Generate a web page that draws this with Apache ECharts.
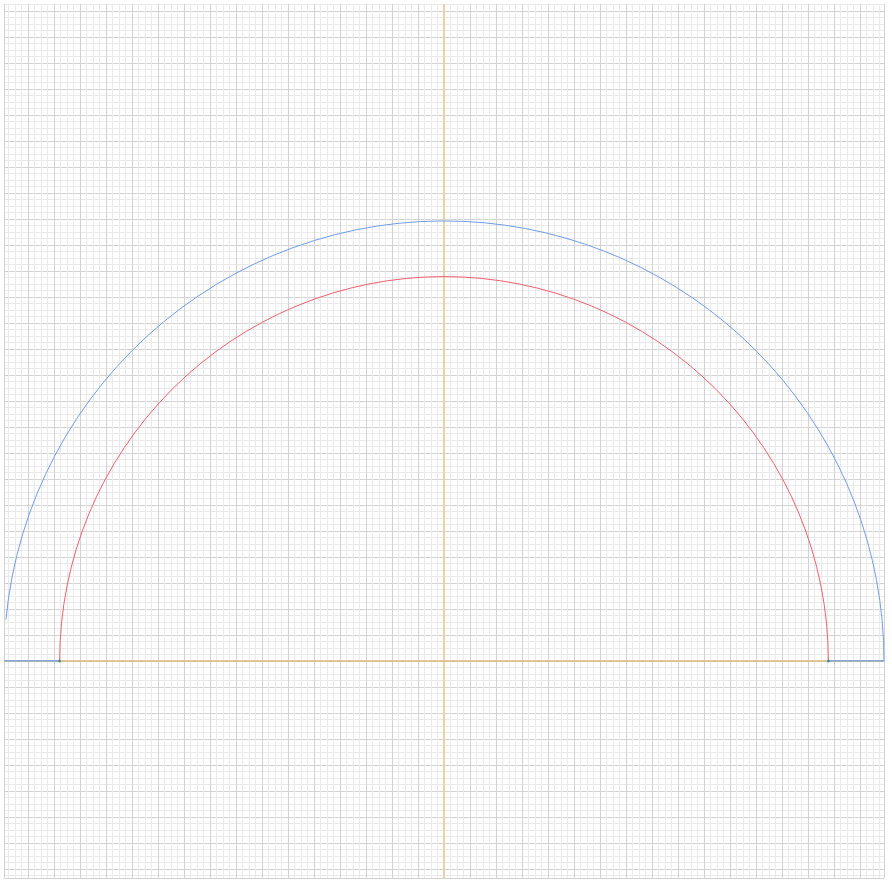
<!DOCTYPE html>
<html>
<head>
<meta charset="utf-8">
<script src="https://cdn.jsdelivr.net/npm/echarts@6/dist/echarts.min.js"></script>
<style>
html,body{margin:0;padding:0;background:#fff;}
#c{width:892px;height:880px;}
</style>
</head>
<body>
<div id="c"></div>
<script>
// ---- data (units: one major grid square) ----
const xRange = [-16.92, 16.92];
const yRange = [-8.35, 25.27];
// arcs centred on the origin: radius, start angle (deg), end angle (deg)
const outerArc = [16.92, 0, 174.6];
const innerArc = [14.78, 0, 180];
// baseline segments on y = 0 between the two radii
const baseLeft = [[-16.92, 0], [-14.78, 0]];
const baseRight = [[14.78, 0], [16.92, 0]];
// end points of the inner arc
const innerEnds = [[-14.78, 0], [14.78, 0]];
// coordinate axes through the origin
const axisX = 0;
const axisY = 0;

const chart = echarts.init(document.getElementById('c'), null, {renderer: 'canvas'});

function arcRenderer(color) {
  return function (params, api) {
    const c = api.coord([0, 0]);
    const r = api.size([api.value(0), 0])[0];
    const a0 = api.value(1) * Math.PI / 180;
    const a1 = api.value(2) * Math.PI / 180;
    return {
      type: 'arc',
      shape: {cx: c[0], cy: c[1], r: r, startAngle: -a1, endAngle: -a0, clockwise: true},
      style: {stroke: color, fill: null, lineWidth: 1}
    };
  };
}

const axisCommon = {
  type: 'value',
  axisLabel: {show: false},
  axisTick: {show: false},
  axisLine: {show: false},
  minInterval: 1,
  maxInterval: 1,
  splitNumber: 40,
  splitLine: {show: true, lineStyle: {color: '#d2d2d2', width: 1, type: 'solid'}},
  minorTick: {show: false, splitNumber: 4},
  minorSplitLine: {show: true, lineStyle: {color: '#eaeaea', width: 1, type: 'solid'}}
};

chart.setOption({
  animation: false,
  backgroundColor: '#ffffff',
  grid: {left: 4, right: 8, top: 4, bottom: 2, containLabel: false},
  xAxis: Object.assign({}, axisCommon, {min: xRange[0], max: xRange[1]}),
  yAxis: Object.assign({}, axisCommon, {min: yRange[0], max: yRange[1]}),
  series: [
    {
      type: 'line', data: [], silent: true, z: 1,
      markLine: {
        silent: true, symbol: 'none', animation: false, z: 1,
        label: {show: false},
        data: [
          {xAxis: axisX, lineStyle: {color: '#e9d3a6', width: 2, type: 'solid'}},
          {yAxis: axisY, lineStyle: {color: '#dcb97a', width: 1.5, type: 'solid'}}
        ]
      }
    },
    {
      type: 'line', data: baseLeft, showSymbol: false, symbol: 'none',
      lineStyle: {color: '#6f9de8', width: 1.3}, z: 6
    },
    {
      type: 'line', data: baseRight, showSymbol: false, symbol: 'none',
      lineStyle: {color: '#6f9de8', width: 1.3}, z: 6
    },
    {
      type: 'custom', coordinateSystem: 'cartesian2d',
      renderItem: arcRenderer('#6f9de8'),
      data: [outerArc], encode: {x: -1, y: -1}, z: 7
    },
    {
      type: 'custom', coordinateSystem: 'cartesian2d',
      renderItem: arcRenderer('#f0606e'),
      data: [innerArc], encode: {x: -1, y: -1}, z: 7
    },
    {
      type: 'scatter', data: innerEnds, symbolSize: 3,
      itemStyle: {color: '#2f8a7c'}, z: 8
    }
  ]
});
</script>
</body>
</html>
